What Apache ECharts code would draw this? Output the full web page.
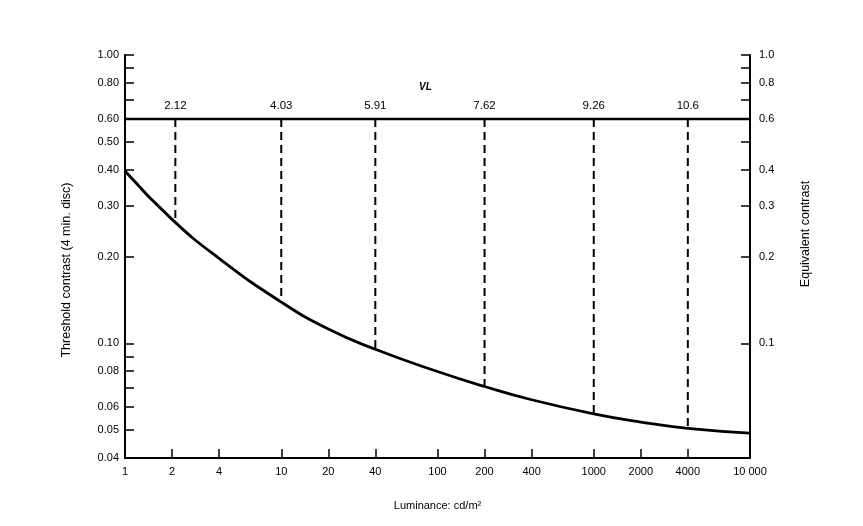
<!DOCTYPE html>
<html>
<head>
<meta charset="utf-8">
<script src="https://cdn.jsdelivr.net/npm/echarts@6/dist/echarts.min.js"></script>
<style>
  html, body { margin: 0; padding: 0; background: #fff; }
  #chart { width: 863px; height: 526px; }
</style>
</head>
<body>
<div id="chart"></div>
<script>
// luminance (cd/m2) vs threshold contrast
const luminance = [1, 2, 4, 10, 20, 40, 100, 200, 400, 1000, 2000, 4000, 10000];
const threshold = [0.396, 0.269, 0.197, 0.139, 0.112, 0.0953, 0.0798, 0.0708, 0.0637, 0.0569, 0.0533, 0.0507, 0.0488];

// VL markers (dashed drops from the 0.6 line to the curve)
const vlLuminance = [2.1, 10, 40, 200, 1000, 4000];
const vlBottom = [0.263, 0.139, 0.0953, 0.0708, 0.0569, 0.0507];
const vlLabels = ['2.12', '4.03', '5.91', '7.62', '9.26', '10.6'];
const vlLevel = 0.6;

const xTicks = [1, 2, 4, 10, 20, 40, 100, 200, 400, 1000, 2000, 4000, 10000];
const leftTicks = [0.04, 0.05, 0.06, 0.07, 0.08, 0.09, 0.1, 0.2, 0.3, 0.4, 0.5, 0.6, 0.7, 0.8, 0.9, 1.0];
const leftLabels = [0.04, 0.05, 0.06, 0.08, 0.1, 0.2, 0.3, 0.4, 0.5, 0.6, 0.8, 1.0];
const rightTicks = [0.1, 0.2, 0.3, 0.4, 0.5, 0.6, 0.7, 0.8, 0.9, 1.0];
const rightLabels = [0.1, 0.2, 0.3, 0.4, 0.6, 0.8, 1.0];

const chart = echarts.init(document.getElementById('chart'));
const font = 'Liberation Sans, Arial, sans-serif';
const ink = '#000';

const axisCommon = {
  type: 'log',
  logBase: 10,
  min: 0.04,
  max: 1,
  axisLine: { show: true, lineStyle: { color: ink, width: 2 } },
  axisTick: { show: true, inside: true, length: 9, lineStyle: { color: ink, width: 1.5 } },
  splitLine: { show: false },
  minorTick: { show: false }
};

let series = [
  {
    type: 'line',
    data: luminance.map((l, i) => [l, threshold[i]]),
    smooth: 0.5,
    symbol: 'none',
    lineStyle: { color: ink, width: 2.8 },
    z: 5
  },
  {
    type: 'line',
    data: [[xTicks[0], vlLevel], [xTicks[xTicks.length - 1], vlLevel]],
    symbol: 'none',
    lineStyle: { color: ink, width: 2.5 },
    z: 5
  }
];

vlLuminance.forEach((l, i) => {
  series.push({
    type: 'line',
    showSymbol: true,
    symbol: 'circle',
    symbolSize: 1,
    itemStyle: { color: 'rgba(0,0,0,0)' },
    lineStyle: { color: ink, width: 2, type: [8, 5] },
    data: [
      {
        value: [l, vlLevel],
        label: {
          show: true,
          position: 'top',
          distance: 7,
          formatter: vlLabels[i],
          fontFamily: font,
          fontSize: 11.5,
          color: ink
        }
      },
      { value: [l, vlBottom[i]], symbol: 'none' }
    ],
    z: 4
  });
});

const option = {
  animation: false,
  backgroundColor: '#fff',
  grid: { left: 125, right: 113, top: 55, bottom: 68 },
  graphic: [
    {
      type: 'text',
      left: 419,
      top: 82,
      style: { text: 'VL', font: 'italic bold 10px ' + font, fill: ink }
    },
    {
      type: 'text',
      x: 67,
      y: 270,
      rotation: Math.PI / 2,
      style: {
        text: 'Threshold contrast (4 min. disc)',
        font: '12.5px ' + font,
        fill: ink,
        align: 'center',
        verticalAlign: 'middle'
      }
    },
    {
      type: 'text',
      x: 806,
      y: 234,
      rotation: Math.PI / 2,
      style: {
        text: 'Equivalent contrast',
        font: '12.5px ' + font,
        fill: ink,
        align: 'center',
        verticalAlign: 'middle'
      }
    }
  ],
  xAxis: {
    type: 'log',
    logBase: 10,
    min: 1,
    max: 10000,
    name: 'Luminance: cd/m\u00b2',
    nameLocation: 'middle',
    nameGap: 42,
    nameTextStyle: { fontFamily: font, fontSize: 11, color: ink },
    axisLine: { show: true, lineStyle: { color: ink, width: 2 } },
    axisTick: { show: true, inside: true, length: 9, customValues: xTicks, lineStyle: { color: ink, width: 1.5 } },
    axisLabel: {
      customValues: xTicks,
      margin: 8,
      fontFamily: font,
      fontSize: 11,
      color: ink,
      formatter: v => (v === 10000 ? '10 000' : String(v))
    },
    splitLine: { show: false }
  },
  yAxis: [
    Object.assign({}, axisCommon, {
      position: 'left',
      axisTick: Object.assign({}, axisCommon.axisTick, { customValues: leftTicks }),
      axisLabel: {
        customValues: leftLabels,
        margin: 6,
        fontFamily: font,
        fontSize: 11,
        color: ink,
        formatter: v => v.toFixed(2)
      }
    }),
    Object.assign({}, axisCommon, {
      position: 'right',
      axisTick: Object.assign({}, axisCommon.axisTick, { customValues: rightTicks }),
      axisLabel: {
        customValues: rightLabels,
        margin: 9,
        fontFamily: font,
        fontSize: 11,
        color: ink,
        formatter: v => v.toFixed(1)
      }
    })
  ],
  series: series
};

chart.setOption(option);
window.onresize = () => {
  chart.resize();
};
</script>
</body>
</html>
